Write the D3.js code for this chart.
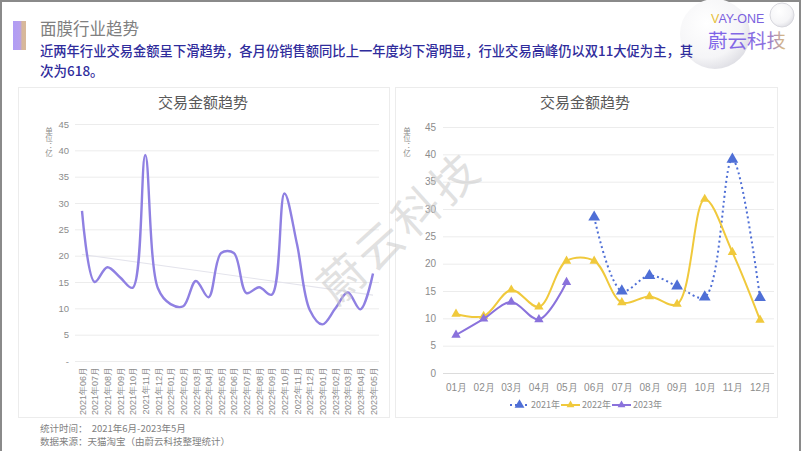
<!DOCTYPE html>
<html><head><meta charset="utf-8">
<script src="https://cdn.jsdelivr.net/npm/d3@7"></script>
<style>
html,body{margin:0;padding:0;background:#fff;}
svg{display:block;font-family:"Noto Sans CJK SC","Noto Sans",sans-serif;}
</style></head>
<body><svg id="c" width="802" height="451"></svg>
<script>
// ---------- DATA ----------
const trendMonths = ["2021年06月","2021年07月","2021年08月","2021年09月","2021年10月","2021年11月","2021年12月",
 "2022年01月","2022年02月","2022年03月","2022年04月","2022年05月","2022年06月","2022年07月","2022年08月","2022年09月","2022年10月","2022年11月","2022年12月",
 "2023年01月","2023年02月","2023年03月","2023年04月","2023年05月"];
const trendValues = [28.5,15,17.8,15.9,13.9,39.1,13.8,
 10.8,10.4,15.2,12.1,20.5,20.5,12.9,14,12.6,31.8,22.1,9.7,
 6.95,9.9,13,9.8,16.6];
const months = ["01月","02月","03月","04月","05月","06月","07月","08月","09月","10月","11月","12月"];
const s2021 = [null,null,null,null,null,28.5,15,17.8,15.9,13.9,39.1,13.8];
const s2022 = [10.8,10.4,15.2,12.1,20.5,20.5,12.9,14,12.6,31.8,22.1,9.7];
const s2023 = [6.95,9.9,13,9.8,16.6,null,null,null,null,null,null,null];
const seriesNames = ["2021年","2022年","2023年"];
const yTicks = [0,5,10,15,20,25,30,35,40,45];

const svg = d3.select("#c");
const defs = svg.append("defs");

// outer frame
svg.append("path").attr("d","M1,451 V1 H800 V451").attr("fill","none").attr("stroke","#8a8a8a").attr("stroke-width",2);

// logo bubbles (behind text)
const rg = defs.append("radialGradient").attr("id","bub").attr("cx","0.38").attr("cy","0.35").attr("r","0.7");
rg.append("stop").attr("offset","0").attr("stop-color","#ffffff");
rg.append("stop").attr("offset","0.7").attr("stop-color","#f5f5f7");
rg.append("stop").attr("offset","1").attr("stop-color","#dedee4");
svg.append("circle").attr("cx",715).attr("cy",34).attr("r",35).attr("fill","url(#bub)");
svg.append("circle").attr("cx",782).attr("cy",15).attr("r",12).attr("fill","url(#bub)").attr("stroke","#d8d8de").attr("stroke-width",1);

// header bar
const gb = defs.append("linearGradient").attr("id","bar").attr("x1","0").attr("x2","1");
gb.append("stop").attr("offset","0").attr("stop-color","#b09cf6");
gb.append("stop").attr("offset","0.55").attr("stop-color","#b7a0ec");
gb.append("stop").attr("offset","0.7").attr("stop-color","#d6b79c");
gb.append("stop").attr("offset","1").attr("stop-color","#d9b999");
svg.append("rect").attr("x",13).attr("y",21).attr("width",13).attr("height",29).attr("fill","url(#bar)");

svg.append("text").attr("x",40).attr("y",35).attr("font-size",16.5).attr("fill","#808080").text("面膜行业趋势");
svg.append("text").attr("x",40).attr("y",56).attr("font-size",13.5).attr("font-weight",500).attr("fill","#2f2c9c")
  .attr("textLength",653).attr("lengthAdjust","spacingAndGlyphs")
  .text("近两年行业交易金额呈下滑趋势，各月份销售额同比上一年度均下滑明显，行业交易高峰仍以双11大促为主，其");
svg.append("text").attr("x",40).attr("y",76).attr("font-size",13.5).attr("font-weight",500).attr("fill","#2f2c9c")
  .text("次为618。");

// logo text
const lt = svg.append("text").attr("x",711).attr("y",22.5).attr("font-size",12.5)
  .attr("font-family","Liberation Sans, Arial, sans-serif");
lt.append("tspan").attr("fill","#e6bf3a").text("V");
lt.append("tspan").attr("fill","#7b62de").text("AY-ONE");
const lg = defs.append("linearGradient").attr("id","logo").attr("x1","0").attr("x2","1");
lg.append("stop").attr("offset","0").attr("stop-color","#7c62e8");
lg.append("stop").attr("offset","0.75").attr("stop-color","#8b6fe0");
lg.append("stop").attr("offset","1").attr("stop-color","#e0c27a");
svg.append("text").attr("x",708).attr("y",48).attr("font-size",19.5).attr("fill","url(#logo)").text("蔚云科技");

// panels
function panel(x,y,w,h){
  svg.append("rect").attr("x",x).attr("y",y).attr("width",w).attr("height",h)
    .attr("fill","#fff").attr("stroke","#ececec").attr("stroke-width",1);
}
panel(18.5,87.5,371,330);
panel(395.5,87.5,382,330);

function unitLabel(g,x){
  g.append("text").attr("x",x).attr("y",127).attr("writing-mode","tb")
   .attr("font-size",7.5).attr("fill","#8c8c8c").text("单位：亿");
}

// ---------- LEFT CHART ----------
const gL = svg.append("g");
const yL = d3.scaleLinear().domain([0,45]).range([361,124]);
const xL = d3.scalePoint().domain(trendMonths).range([82,373]);
gL.append("text").attr("x",203).attr("y",108).attr("text-anchor","middle").attr("font-size",15).attr("fill","#595959").text("交易金额趋势");
const axL = gL.append("g").attr("transform","translate(75,0)")
  .call(d3.axisRight(yL).tickValues(yTicks).tickSize(304).tickFormat(d=>d===0?"-":d));
axL.select(".domain").remove();
axL.selectAll(".tick line").attr("stroke","#ececec");
axL.selectAll(".tick text").attr("x",-6).attr("text-anchor","end").attr("fill","#8c8c8c").attr("font-size",9.5);
const xaL = gL.append("g").attr("transform","translate(0,361)").call(d3.axisBottom(xL).tickSize(0));
xaL.select(".domain").remove();
xaL.selectAll(".tick text").attr("transform","rotate(-90)").attr("x",-6).attr("y",0).attr("dy","0.35em")
  .attr("text-anchor","end").attr("fill","#8c8c8c").attr("font-size",9);
unitLabel(gL,49);
// trendline (linear regression of the series)
const n = trendValues.length, mi=(n-1)/2, mv=d3.mean(trendValues);
const slope = d3.sum(trendValues,(v,i)=>(i-mi)*(v-mv))/d3.sum(trendValues,(v,i)=>(i-mi)*(i-mi));
gL.append("line").attr("x1",xL(trendMonths[0])).attr("x2",xL(trendMonths[n-1]))
  .attr("y1",yL(mv-slope*mi)).attr("y2",yL(mv+slope*mi)).attr("stroke","#e4e4ec").attr("stroke-width",1.2);
gL.append("path").datum(trendValues)
  .attr("d",d3.line().x((d,i)=>xL(trendMonths[i])).y(d=>yL(d)).curve(d3.curveCatmullRom.alpha(0.5)))
  .attr("fill","none").attr("stroke","#8f80e2").attr("stroke-width",2.4);

// ---------- RIGHT CHART ----------
const gR = svg.append("g");
const yR = d3.scaleLinear().domain([0,45]).range([373,127]);
const xR = d3.scalePoint().domain(months).range([456,760]);
gR.append("text").attr("x",585).attr("y",108).attr("text-anchor","middle").attr("font-size",15).attr("fill","#595959").text("交易金额趋势");
const axR = gR.append("g").attr("transform","translate(443,0)")
  .call(d3.axisRight(yR).tickValues(yTicks).tickSize(331));
axR.select(".domain").remove();
axR.selectAll(".tick line").attr("stroke",d=>d===0?"#dcdcdc":"#ececec");
axR.selectAll(".tick text").attr("x",-7).attr("text-anchor","end").attr("fill","#8c8c8c").attr("font-size",10);
const xaR = gR.append("g").attr("transform","translate(0,373)").call(d3.axisBottom(xR).tickSize(0));
xaR.select(".domain").remove();
xaR.selectAll(".tick text").attr("y",11).attr("fill","#8c8c8c").attr("font-size",10);
unitLabel(gR,407);

const colors = ["#4f6fd6","#f0c93c","#8a72dc"];
const dashes = ["2,3",null,null];
const msize = [60,38,38];
[s2021,s2022,s2023].forEach((s,k)=>{
  const line = d3.line().defined(d=>d!=null).x((d,i)=>xR(months[i])).y(d=>yR(d)).curve(d3.curveCatmullRom.alpha(0.5));
  gR.append("path").datum(s).attr("d",line).attr("fill","none").attr("stroke",colors[k])
    .attr("stroke-width",2).attr("stroke-dasharray",dashes[k]);
  gR.selectAll(null).data(s.map((v,i)=>({v,i})).filter(d=>d.v!=null)).join("path")
    .attr("transform",d=>`translate(${xR(months[d.i])},${yR(d.v)})`)
    .attr("d",d3.symbol(d3.symbolTriangle,msize[k])).attr("fill",colors[k]);
});

// legend
const lgX = [510,561,612];
seriesNames.forEach((nm,k)=>{
  const g = gR.append("g").attr("transform",`translate(${lgX[k]},405)`);
  g.append("line").attr("x1",0).attr("x2",19).attr("stroke",colors[k]).attr("stroke-width",2).attr("stroke-dasharray",dashes[k]);
  g.append("path").attr("transform","translate(9.5,0)").attr("d",d3.symbol(d3.symbolTriangle,msize[k]*0.7)).attr("fill",colors[k]);
  g.append("text").attr("x",21).attr("y",0).attr("dy","0.35em").attr("font-size",9).attr("fill","#8c8c8c").text(nm);
});

// footer
svg.append("text").attr("x",40).attr("y",432).attr("font-size",9.5).attr("fill","#7f7f7f").attr("xml:space","preserve").text("统计时间：  2021年6月-2023年5月");
svg.append("text").attr("x",40).attr("y",445).attr("font-size",9.5).attr("fill","#7f7f7f").text("数据来源：天猫淘宝（由蔚云科技整理统计）");

// watermark
svg.append("text").attr("transform","translate(400,228) rotate(-42)").attr("text-anchor","middle").attr("dy","0.35em")
  .attr("font-size",46).attr("fill","#c8c8c8").attr("fill-opacity",0.55).attr("letter-spacing",4).text("蔚云科技");
</script></body></html>
